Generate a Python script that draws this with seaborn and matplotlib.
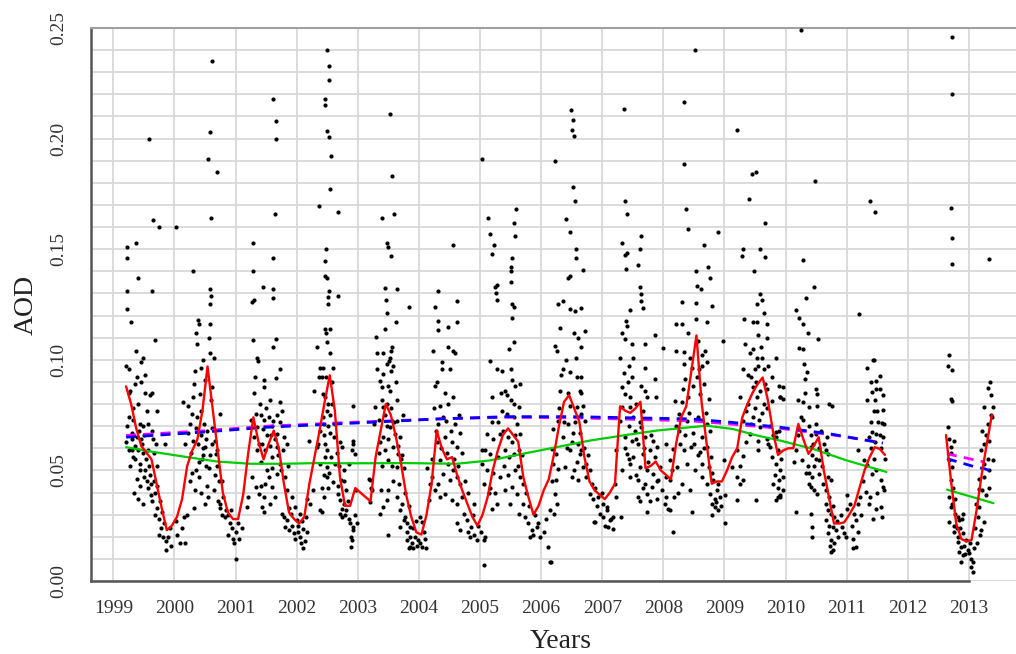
"""AOD time series: daily points, monthly means and trend curves."""

import matplotlib

matplotlib.use("Agg")
import matplotlib.pyplot as plt
import numpy as np
import pandas as pd
import seaborn as sns

# ---- data ------------------------------------------------------------------

# monthly means (red line); index m counts months from Jan 1999
monthly_start_a = 2
monthly_a = [
    0.088, 0.080, 0.069, 0.061, 0.058, 0.055, 0.044, 0.033, 0.023, 0.025,
    0.029, 0.037, 0.052, 0.059, 0.064, 0.077, 0.097, 0.078, 0.059, 0.040,
    0.031, 0.028, 0.028, 0.039, 0.058, 0.074, 0.063, 0.055, 0.062, 0.068,
    0.060, 0.044, 0.031, 0.028, 0.026, 0.029, 0.044, 0.056, 0.068, 0.081,
    0.093, 0.077, 0.047, 0.034, 0.034, 0.042, 0.040, 0.038, 0.036, 0.056,
    0.068, 0.080, 0.075, 0.065, 0.053, 0.039, 0.029, 0.022, 0.021, 0.030,
    0.044, 0.068, 0.060, 0.055, 0.056, 0.048, 0.041, 0.035, 0.029, 0.025,
    0.030, 0.038, 0.050, 0.059, 0.066, 0.069, 0.066, 0.063, 0.047, 0.038,
    0.030, 0.034, 0.041, 0.046, 0.057, 0.070, 0.081, 0.084, 0.078, 0.072,
    0.056, 0.045, 0.041, 0.039, 0.037, 0.040, 0.044, 0.079, 0.077, 0.076,
    0.078, 0.081, 0.051, 0.052, 0.054, 0.050, 0.048, 0.046, 0.062, 0.074,
    0.079, 0.095, 0.111, 0.081, 0.062, 0.044, 0.045, 0.045, 0.050, 0.056,
    0.060, 0.074, 0.080, 0.085, 0.089, 0.092, 0.082, 0.068, 0.057, 0.059,
    0.060, 0.060, 0.071, 0.064, 0.0575, 0.061, 0.065, 0.050, 0.038, 0.026,
    0.026, 0.0265, 0.030, 0.034, 0.042, 0.050, 0.056, 0.0605, 0.0597, 0.057,
]
monthly_start_b = 163
monthly_b = [0.066, 0.045, 0.026, 0.019, 0.018, 0.0185, 0.032, 0.048, 0.062, 0.075]

# smooth trend (green)
green_x = [1999.21, 1999.60, 2000.14, 2000.70, 2001.24, 2001.78, 2002.33, 2002.87,
           2003.80, 2004.62, 2005.16, 2005.70, 2006.25, 2006.80, 2007.34, 2007.89,
           2008.44, 2008.71, 2009.14, 2009.53, 2009.91, 2010.45, 2011.00, 2011.65]
green_y = [0.0605, 0.0586, 0.0563, 0.0540, 0.0530, 0.0530, 0.0533, 0.0532,
           0.0533, 0.0530, 0.0545, 0.0575, 0.0605, 0.0635, 0.0658, 0.0680,
           0.0695, 0.0702, 0.0687, 0.0658, 0.0635, 0.0597, 0.0545, 0.0493]
green_x2 = [2012.64, 2013.40]
green_y2 = [0.0413, 0.0352]

# linear-ish trends (blue and magenta dashed)
blue_x = [1999.21, 2000.42, 2001.51, 2002.87, 2004.35, 2005.44, 2006.53, 2007.62,
          2008.44, 2009.09, 2009.91, 2010.73, 2011.59]
blue_y = [0.0650, 0.0672, 0.0695, 0.0713, 0.0733, 0.0743, 0.0743, 0.0737,
          0.0733, 0.0718, 0.0695, 0.0665, 0.0623]
blue_x2 = [2012.64, 2013.11, 2013.25, 2013.41]
blue_y2 = [0.0553, 0.0515, 0.0508, 0.0492]

magenta_x = [1999.21, 2000.42, 2001.51, 2002.87, 2004.35, 2005.44, 2006.53, 2007.62,
             2008.44, 2009.09, 2009.91, 2010.73, 2011.59]
magenta_y = [0.0658, 0.0678, 0.0700, 0.0717, 0.0733, 0.0740, 0.0738, 0.0730,
             0.0724, 0.0710, 0.0690, 0.0662, 0.0625]
magenta_x2 = [2012.64, 2013.25]
magenta_y2 = [0.0575, 0.0538]

# daily observations (black dots), grouped by season
pts_1999 = [
    (1999.58, 0.200), (1999.65, 0.163), (1999.75, 0.160), (2000.03, 0.160), (1999.22, 0.151),
    (1999.22, 0.146), (1999.37, 0.153), (1999.40, 0.137), (1999.23, 0.131), (1999.63, 0.131),
    (1999.23, 0.123), (1999.29, 0.117), (1999.68, 0.109), (1999.37, 0.104), (1999.49, 0.101),
    (1999.46, 0.099), (1999.21, 0.097), (1999.26, 0.096), (1999.52, 0.093), (1999.38, 0.092),
    (1999.36, 0.089), (1999.28, 0.086), (1999.52, 0.085), (1999.63, 0.085), (1999.60, 0.084),
    (1999.41, 0.080), (1999.71, 0.077), (1999.55, 0.077), (1999.26, 0.074), (1999.33, 0.073),
    (1999.44, 0.071), (1999.49, 0.070), (1999.23, 0.070), (1999.30, 0.067), (1999.63, 0.068),
    (1999.38, 0.065), (1999.46, 0.064), (1999.21, 0.063), (1999.30, 0.059), (1999.41, 0.059),
    (1999.49, 0.058), (1999.57, 0.059), (1999.66, 0.058), (1999.85, 0.062), (1999.71, 0.052),
    (1999.44, 0.053), (1999.52, 0.050), (1999.60, 0.048), (1999.38, 0.046), (1999.66, 0.045),
    (1999.44, 0.043), (1999.57, 0.042), (1999.62, 0.039), (1999.41, 0.037), (1999.48, 0.035),
    (1999.71, 0.033), (1999.68, 0.030), (1999.74, 0.028), (1999.83, 0.026), (1999.86, 0.018),
    (1999.87, 0.014), (1999.74, 0.021), (1999.93, 0.024), (2000.04, 0.021), (2000.09, 0.017),
    (2000.17, 0.017), (1999.27, 0.052), (1999.26, 0.059), (1999.33, 0.056), (1999.30, 0.064),
    (1999.35, 0.061), (1999.47, 0.062), (1999.54, 0.055), (1999.58, 0.052), (1999.50, 0.047),
    (1999.61, 0.044), (1999.69, 0.040), (1999.77, 0.036), (1999.80, 0.031), (1999.90, 0.020),
    (1999.95, 0.016), (1999.32, 0.078), (1999.42, 0.068), (1999.50, 0.066), (1999.56, 0.071),
    (1999.65, 0.064), (1999.70, 0.062), (1999.36, 0.055), (1999.43, 0.050), (1999.55, 0.045),
    (1999.64, 0.036), (1999.72, 0.043), (1999.78, 0.024), (1999.82, 0.020), (1999.25, 0.085),
    (1999.45, 0.090), (1999.34, 0.040), (2000.02, 0.027), (2000.12, 0.024),
]
pts_2000 = [
    (2000.61, 0.235), (2000.58, 0.203), (2000.55, 0.191), (2000.70, 0.185), (2000.60, 0.164),
    (2000.31, 0.140), (2000.59, 0.132), (2000.60, 0.129), (2000.59, 0.125), (2000.39, 0.118),
    (2000.40, 0.116), (2000.59, 0.116), (2000.56, 0.110), (2000.37, 0.107), (2000.58, 0.103),
    (2000.64, 0.101), (2000.44, 0.0965), (2000.32, 0.089), (2000.50, 0.091), (2000.62, 0.0875),
    (2000.14, 0.081), (2000.23, 0.079), (2000.42, 0.0845), (2000.60, 0.082), (2000.28, 0.0755),
    (2000.37, 0.074), (2000.75, 0.0755), (2000.48, 0.071), (2000.54, 0.068), (2000.26, 0.071),
    (2000.23, 0.067), (2000.31, 0.0635), (2000.39, 0.062), (2000.50, 0.0605), (2000.61, 0.062),
    (2000.69, 0.059), (2000.27, 0.058), (2000.40, 0.054), (2000.45, 0.055), (2000.57, 0.051),
    (2000.28, 0.049), (2000.41, 0.047), (2000.53, 0.043), (2000.26, 0.045), (2000.64, 0.041),
    (2000.34, 0.041), (2000.50, 0.035), (2000.75, 0.035), (2000.32, 0.033), (2000.72, 0.036),
    (2000.74, 0.033), (2000.78, 0.030), (2000.85, 0.032), (2000.83, 0.029), (2000.91, 0.026),
    (2000.94, 0.024), (2001.00, 0.022), (2001.01, 0.010), (2000.98, 0.017), (2001.10, 0.024),
    (2000.87, 0.030), (2000.20, 0.030), (2000.15, 0.029), (2000.78, 0.045), (2000.79, 0.038),
    (2000.67, 0.0635), (2000.68, 0.0575), (2000.36, 0.112), (2000.47, 0.057), (2000.52, 0.064),
    (2000.44, 0.077), (2000.66, 0.048), (2000.96, 0.019), (2001.04, 0.026), (2000.30, 0.083),
    (2000.35, 0.069), (2000.43, 0.066), (2000.46, 0.060), (2000.52, 0.052), (2000.58, 0.057),
    (2000.62, 0.069), (2000.70, 0.052), (2000.73, 0.045), (2000.36, 0.050), (2000.44, 0.040),
    (2000.55, 0.038), (2000.88, 0.021), (2000.92, 0.032), (2001.06, 0.019), (2000.33, 0.095),
    (2000.47, 0.100), (2000.18, 0.062),
]
pts_2001 = [
    (2001.62, 0.218), (2001.66, 0.208), (2001.66, 0.200), (2001.65, 0.166), (2001.28, 0.153),
    (2001.61, 0.146), (2001.28, 0.140), (2001.45, 0.133), (2001.62, 0.132), (2001.61, 0.128),
    (2001.27, 0.126), (2001.31, 0.127), (2001.28, 0.109), (2001.67, 0.1096), (2001.61, 0.106),
    (2001.35, 0.101), (2001.36, 0.0996), (2001.73, 0.0958), (2001.32, 0.092), (2001.47, 0.091),
    (2001.47, 0.0875), (2001.67, 0.0916), (2001.57, 0.082), (2001.73, 0.081), (2001.25, 0.073),
    (2001.34, 0.0755), (2001.42, 0.075), (2001.47, 0.073), (2001.55, 0.074), (2001.62, 0.0725),
    (2001.68, 0.075), (2001.73, 0.072), (2001.76, 0.077), (2001.35, 0.0695), (2001.45, 0.0688),
    (2001.60, 0.070), (2001.51, 0.066), (2001.68, 0.0665), (2001.79, 0.065), (2001.38, 0.062),
    (2001.57, 0.061), (2001.68, 0.0605), (2001.84, 0.062), (2001.35, 0.059), (2001.49, 0.059),
    (2001.42, 0.054), (2001.60, 0.056), (2001.73, 0.053), (2001.27, 0.047), (2001.60, 0.051),
    (2001.68, 0.0485), (2001.54, 0.047), (2001.34, 0.0425), (2001.42, 0.043), (2001.46, 0.038),
    (2001.38, 0.0395), (2001.43, 0.0335), (2001.46, 0.031), (2001.60, 0.0425), (2001.65, 0.038),
    (2001.21, 0.038), (2001.19, 0.0335), (2001.74, 0.050), (2001.81, 0.047), (2001.84, 0.041),
    (2001.92, 0.038), (2001.76, 0.0305), (2001.79, 0.029), (2001.84, 0.0275), (2001.90, 0.0305),
    (2001.81, 0.0245), (2001.87, 0.023), (2001.92, 0.025), (2001.95, 0.0215), (2002.00, 0.0275),
    (2002.03, 0.022), (2002.06, 0.020), (2002.11, 0.0237), (2002.17, 0.022), (2002.10, 0.0147),
    (2002.07, 0.017), (2001.98, 0.0335), (2002.05, 0.0305), (2002.16, 0.029), (2002.17, 0.037),
    (2002.22, 0.035), (2002.20, 0.0635), (2002.33, 0.0605), (2001.30, 0.065), (2001.40, 0.080),
    (2001.50, 0.078), (2001.58, 0.066), (2001.64, 0.064), (2001.70, 0.057), (2001.77, 0.059),
    (2001.52, 0.050), (2001.48, 0.044), (2001.56, 0.035), (2001.88, 0.033), (2001.97, 0.019),
    (2002.02, 0.025), (2002.09, 0.027), (2002.13, 0.018), (2001.30, 0.085), (2001.44, 0.062),
    (2001.86, 0.052),
]
pts_2002 = [
    (2002.49, 0.240), (2002.53, 0.233), (2002.53, 0.2265), (2002.47, 0.218), (2002.47, 0.2153),
    (2002.49, 0.2035), (2002.53, 0.2005), (2002.56, 0.1923), (2002.55, 0.177), (2002.37, 0.1695),
    (2002.67, 0.1668), (2002.48, 0.150), (2002.47, 0.1446), (2002.47, 0.138), (2002.50, 0.137),
    (2002.53, 0.131), (2002.51, 0.1285), (2002.67, 0.129), (2002.52, 0.125), (2002.47, 0.114),
    (2002.55, 0.114), (2002.48, 0.112), (2002.49, 0.108), (2002.55, 0.103), (2002.43, 0.0962),
    (2002.60, 0.0962), (2002.41, 0.092), (2002.48, 0.092), (2002.43, 0.0845), (2002.47, 0.083),
    (2002.93, 0.079), (2002.49, 0.077), (2002.55, 0.075), (2002.43, 0.074), (2002.55, 0.067),
    (2002.61, 0.065), (2002.71, 0.063), (2002.74, 0.0605), (2002.93, 0.062), (2002.96, 0.0575),
    (2002.49, 0.059), (2002.57, 0.056), (2002.63, 0.053), (2002.77, 0.050), (2002.44, 0.0477),
    (2002.60, 0.0447), (2002.68, 0.043), (2002.72, 0.0455), (2002.41, 0.042), (2002.52, 0.042),
    (2002.81, 0.041), (2002.97, 0.041), (2002.67, 0.0395), (2002.71, 0.0365), (2002.77, 0.035),
    (2002.74, 0.0327), (2002.80, 0.032), (2002.41, 0.031), (2002.71, 0.0305), (2002.75, 0.029),
    (2002.79, 0.0297), (2002.85, 0.028), (2002.87, 0.026), (2002.92, 0.0245), (2002.89, 0.020),
    (2002.90, 0.0185), (2002.89, 0.0155), (2002.93, 0.023), (2002.44, 0.071), (2002.39, 0.068),
    (2002.47, 0.062), (2002.39, 0.053), (2002.50, 0.047), (2002.44, 0.038), (2002.50, 0.0515),
    (2002.33, 0.106), (2002.39, 0.0965), (2002.36, 0.092), (2002.29, 0.086), (2002.52, 0.080),
    (2002.27, 0.041), (2002.39, 0.032), (2002.92, 0.0635), (2002.90, 0.059), (2002.85, 0.053),
    (2002.45, 0.066), (2002.52, 0.070), (2002.58, 0.080), (2002.62, 0.071), (2002.66, 0.058),
    (2002.70, 0.052), (2002.78, 0.045), (2002.84, 0.036), (2002.95, 0.030), (2002.98, 0.026),
    (2002.46, 0.056), (2002.53, 0.049), (2002.35, 0.062), (2002.58, 0.090),
]
pts_2003 = [
    (2003.53, 0.211), (2003.56, 0.183), (2003.40, 0.164), (2003.60, 0.166), (2003.47, 0.153),
    (2003.49, 0.151), (2003.55, 0.147), (2003.45, 0.1326), (2003.46, 0.127), (2003.47, 0.121),
    (2003.64, 0.132), (2003.83, 0.124), (2003.45, 0.114), (2003.30, 0.1105), (2003.63, 0.117),
    (2003.56, 0.106), (2003.55, 0.104), (2003.53, 0.101), (2003.42, 0.103), (2003.31, 0.103),
    (2003.51, 0.0995), (2003.58, 0.097), (2003.55, 0.095), (2003.31, 0.096), (2003.42, 0.0935),
    (2003.37, 0.0905), (2003.50, 0.088), (2003.39, 0.0875), (2003.53, 0.086), (2003.64, 0.082),
    (2003.39, 0.082), (2003.47, 0.080), (2003.42, 0.0785), (2003.28, 0.0785), (2003.34, 0.073),
    (2003.26, 0.071), (2003.74, 0.075), (2003.64, 0.0725), (2003.53, 0.0695), (2003.61, 0.0665),
    (2003.69, 0.065), (2003.50, 0.064), (2003.42, 0.065), (2003.37, 0.063), (2003.45, 0.059),
    (2003.58, 0.0605), (2003.66, 0.0575), (2003.72, 0.057), (2003.50, 0.0545), (2003.56, 0.052),
    (2003.64, 0.0515), (2003.75, 0.051), (2003.20, 0.0455), (2003.23, 0.041), (2003.38, 0.041),
    (2003.50, 0.041), (2003.64, 0.038), (2003.72, 0.035), (2003.69, 0.032), (2003.77, 0.029),
    (2003.75, 0.0275), (2003.80, 0.026), (2003.69, 0.0245), (2003.86, 0.0245), (2003.80, 0.022),
    (2003.86, 0.020), (2003.94, 0.020), (2003.99, 0.0185), (2003.81, 0.0185), (2003.86, 0.0155),
    (2003.91, 0.0147), (2003.97, 0.016), (2004.02, 0.017), (2004.05, 0.0155), (2004.12, 0.015),
    (2003.83, 0.0147), (2003.88, 0.017), (2003.42, 0.0335), (2003.47, 0.0365), (2003.67, 0.044),
    (2003.20, 0.0357), (2003.37, 0.0305), (2003.50, 0.0207), (2003.19, 0.046), (2003.21, 0.042),
    (2003.44, 0.075), (2003.48, 0.070), (2003.55, 0.078), (2003.60, 0.072), (2003.66, 0.061),
    (2003.70, 0.055), (2003.78, 0.040), (2003.83, 0.034), (2003.90, 0.024), (2003.95, 0.027),
    (2004.08, 0.022), (2004.10, 0.019), (2003.34, 0.058), (2003.40, 0.052), (2003.58, 0.045),
    (2003.62, 0.090), (2003.48, 0.098),
]
pts_2004 = [
    (2004.55, 0.152), (2004.26, 0.124), (2004.31, 0.1176), (2004.31, 0.1135), (2004.32, 0.131),
    (2004.48, 0.115), (2004.63, 0.117), (2004.62, 0.1266), (2004.23, 0.104), (2004.47, 0.106),
    (2004.56, 0.104), (2004.59, 0.103), (2004.37, 0.099), (2004.38, 0.096), (2004.51, 0.096),
    (2004.26, 0.088), (2004.55, 0.083), (2004.48, 0.080), (2004.24, 0.078), (2004.35, 0.079),
    (2004.32, 0.071), (2004.44, 0.0725), (2004.59, 0.071), (2004.67, 0.067), (2004.29, 0.063),
    (2004.43, 0.065), (2004.54, 0.063), (2004.63, 0.0605), (2004.21, 0.055), (2004.35, 0.0545),
    (2004.48, 0.053), (2004.56, 0.050), (2004.40, 0.0485), (2004.51, 0.0455), (2004.62, 0.047),
    (2004.67, 0.044), (2004.21, 0.047), (2004.32, 0.044), (2004.43, 0.0395), (2004.54, 0.0365),
    (2004.62, 0.035), (2004.70, 0.038), (2004.73, 0.0305), (2004.78, 0.0275), (2004.86, 0.0245),
    (2004.81, 0.022), (2004.62, 0.026), (2004.67, 0.023), (2004.84, 0.020), (2004.90, 0.0207),
    (2004.95, 0.0185), (2005.06, 0.0185), (2005.08, 0.020), (2005.06, 0.0072), (2004.14, 0.051),
    (2004.18, 0.044), (2004.16, 0.0365), (2004.90, 0.035), (2004.02, 0.029), (2004.05, 0.0267),
    (2004.26, 0.041), (2004.34, 0.038), (2004.28, 0.068), (2004.36, 0.060), (2004.40, 0.074),
    (2004.46, 0.058), (2004.52, 0.068), (2004.58, 0.055), (2004.64, 0.052), (2004.70, 0.058),
    (2004.75, 0.045), (2004.80, 0.040), (2004.88, 0.030), (2004.96, 0.025), (2005.01, 0.022),
    (2004.30, 0.090), (2004.42, 0.085), (2004.65, 0.075),
]
pts_2005 = [
    (2005.04, 0.191), (2005.13, 0.164), (2005.16, 0.157), (2005.59, 0.168), (2005.55, 0.162),
    (2005.57, 0.156), (2005.23, 0.152), (2005.19, 0.148), (2005.25, 0.133), (2005.27, 0.134),
    (2005.26, 0.130), (2005.27, 0.127), (2005.52, 0.146), (2005.50, 0.142), (2005.50, 0.140),
    (2005.50, 0.135), (2005.53, 0.125), (2005.55, 0.124), (2005.52, 0.119), (2005.55, 0.108),
    (2005.48, 0.105), (2005.16, 0.0995), (2005.27, 0.096), (2005.36, 0.095), (2005.50, 0.096),
    (2005.52, 0.091), (2005.41, 0.086), (2005.44, 0.084), (2005.50, 0.082), (2005.55, 0.080),
    (2005.65, 0.089), (2005.19, 0.083), (2005.36, 0.077), (2005.44, 0.0755), (2005.55, 0.074),
    (2005.63, 0.0785), (2005.11, 0.0665), (2005.22, 0.064), (2005.33, 0.0665), (2005.46, 0.065),
    (2005.57, 0.066), (2005.66, 0.0665), (2005.08, 0.059), (2005.16, 0.0575), (2005.30, 0.056),
    (2005.41, 0.059), (2005.55, 0.0575), (2005.64, 0.059), (2005.11, 0.050), (2005.22, 0.049),
    (2005.33, 0.047), (2005.46, 0.0477), (2005.57, 0.050), (2005.66, 0.047), (2005.71, 0.044),
    (2005.06, 0.044), (2005.16, 0.042), (2005.25, 0.040), (2005.41, 0.041), (2005.52, 0.0425),
    (2005.60, 0.0395), (2005.19, 0.0327), (2005.27, 0.035), (2005.49, 0.035), (2005.63, 0.0305),
    (2005.71, 0.035), (2005.74, 0.029), (2005.79, 0.026), (2005.85, 0.023), (2005.87, 0.0207),
    (2005.82, 0.020), (2005.93, 0.0245), (2005.98, 0.020), (2006.12, 0.0155), (2006.15, 0.0087),
    (2005.03, 0.059), (2005.04, 0.053), (2005.30, 0.072), (2005.38, 0.068), (2005.40, 0.052),
    (2005.47, 0.056), (2005.52, 0.063), (2005.60, 0.071), (2005.62, 0.052), (2005.68, 0.057),
    (2005.76, 0.040), (2005.80, 0.034), (2005.90, 0.030), (2005.95, 0.026), (2006.04, 0.022),
    (2006.08, 0.028), (2005.20, 0.072), (2005.14, 0.040), (2005.35, 0.085), (2005.58, 0.088),
]
pts_2006 = [
    (2006.49, 0.213), (2006.52, 0.2086), (2006.51, 0.204), (2006.54, 0.201), (2006.23, 0.190),
    (2006.52, 0.178), (2006.55, 0.1716), (2006.40, 0.1635), (2006.48, 0.158), (2006.57, 0.150),
    (2006.57, 0.1458), (2006.48, 0.138), (2006.44, 0.137), (2006.69, 0.1405), (2006.35, 0.1266),
    (2006.28, 0.125), (2006.47, 0.123), (2006.55, 0.122), (2006.65, 0.1233), (2006.31, 0.1146),
    (2006.53, 0.112), (2006.71, 0.113), (2006.23, 0.1063), (2006.26, 0.104), (2006.65, 0.106),
    (2006.57, 0.101), (2006.36, 0.0958), (2006.33, 0.093), (2006.47, 0.0943), (2006.58, 0.092),
    (2006.66, 0.092), (2006.31, 0.086), (2006.44, 0.085), (2006.63, 0.086), (2006.66, 0.085),
    (2006.47, 0.079), (2006.58, 0.0785), (2006.66, 0.0755), (2006.69, 0.079), (2006.28, 0.0725),
    (2006.44, 0.071), (2006.55, 0.072), (2006.72, 0.0725), (2006.20, 0.0688), (2006.36, 0.065),
    (2006.50, 0.063), (2006.61, 0.062), (2006.17, 0.0598), (2006.25, 0.0575), (2006.47, 0.059),
    (2006.63, 0.0575), (2006.66, 0.059), (2006.20, 0.053), (2006.28, 0.0507), (2006.39, 0.0515),
    (2006.53, 0.050), (2006.69, 0.0515), (2006.74, 0.053), (2006.25, 0.0455), (2006.50, 0.047),
    (2006.61, 0.0455), (2006.74, 0.047), (2006.83, 0.044), (2006.22, 0.0395), (2006.80, 0.0395),
    (2006.85, 0.0372), (2006.93, 0.038), (2007.02, 0.035), (2006.14, 0.032), (2006.21, 0.0305),
    (2006.96, 0.0305), (2007.02, 0.029), (2007.07, 0.032), (2007.13, 0.0275), (2007.18, 0.029),
    (2006.88, 0.0267), (2007.04, 0.025), (2007.10, 0.0245), (2007.18, 0.0237), (2007.30, 0.029),
    (2007.23, 0.038), (2007.21, 0.044), (2006.16, 0.0087), (2006.30, 0.078), (2006.38, 0.072),
    (2006.42, 0.060), (2006.52, 0.067), (2006.58, 0.054), (2006.64, 0.067), (2006.70, 0.060),
    (2006.76, 0.057), (2006.80, 0.050), (2006.88, 0.042), (2006.92, 0.034), (2007.00, 0.040),
    (2006.18, 0.045), (2006.26, 0.035), (2006.40, 0.100), (2006.60, 0.110),
]
pts_2007 = [
    (2007.36, 0.2135), (2007.37, 0.172), (2007.40, 0.166), (2007.33, 0.153), (2007.61, 0.150),
    (2007.63, 0.156), (2007.37, 0.1476), (2007.40, 0.1483), (2007.39, 0.141), (2007.59, 0.143),
    (2007.62, 0.133), (2007.63, 0.1296), (2007.64, 0.1266), (2007.67, 0.1233), (2007.45, 0.1224),
    (2007.39, 0.1176), (2007.40, 0.1153), (2007.32, 0.1123), (2007.37, 0.1093), (2007.70, 0.107),
    (2007.48, 0.107), (2007.86, 0.111), (2007.29, 0.1008), (2007.50, 0.101), (2007.43, 0.097),
    (2007.70, 0.0965), (2007.48, 0.092), (2007.86, 0.0913), (2007.32, 0.0875), (2007.37, 0.0845),
    (2007.45, 0.083), (2007.64, 0.088), (2007.70, 0.086), (2007.73, 0.083), (2007.88, 0.083),
    (2007.32, 0.0785), (2007.45, 0.0785), (2007.56, 0.080), (2007.67, 0.077), (2007.29, 0.0725),
    (2007.43, 0.070), (2007.53, 0.068), (2007.64, 0.0695), (2007.37, 0.065), (2007.48, 0.0635),
    (2007.59, 0.062), (2007.70, 0.065), (2007.83, 0.0635), (2007.23, 0.059), (2007.40, 0.0575),
    (2007.51, 0.056), (2007.67, 0.0575), (2007.78, 0.059), (2007.89, 0.0605), (2007.32, 0.050),
    (2007.45, 0.053), (2007.62, 0.0515), (2007.73, 0.050), (2007.83, 0.0485), (2007.94, 0.0515),
    (2007.45, 0.047), (2007.59, 0.0455), (2007.70, 0.044), (2007.81, 0.0425), (2007.92, 0.0455),
    (2008.05, 0.047), (2007.59, 0.038), (2007.73, 0.0395), (2007.89, 0.0372), (2007.73, 0.031),
    (2007.62, 0.036), (2008.11, 0.032), (2008.17, 0.038), (2008.05, 0.038), (2008.16, 0.0222),
    (2008.08, 0.0327), (2006.86, 0.0267), (2007.08, 0.0335), (2007.15, 0.028), (2008.00, 0.1055),
    (2007.35, 0.094), (2007.42, 0.090), (2007.50, 0.074), (2007.55, 0.064), (2007.62, 0.072),
    (2007.68, 0.060), (2007.75, 0.054), (2007.80, 0.066), (2007.86, 0.056), (2007.90, 0.045),
    (2007.98, 0.041), (2008.02, 0.035), (2007.38, 0.060), (2007.44, 0.055), (2007.56, 0.048),
    (2007.66, 0.042), (2007.78, 0.036),
]
pts_2008 = [
    (2008.34, 0.2166), (2008.52, 0.240), (2008.34, 0.1887), (2008.40, 0.159), (2008.90, 0.158),
    (2008.37, 0.168), (2008.67, 0.152), (2008.53, 0.140), (2008.55, 0.1333), (2008.62, 0.1318),
    (2008.73, 0.142), (2008.77, 0.137), (2008.31, 0.1263), (2008.53, 0.1258), (2008.79, 0.1243),
    (2008.54, 0.1183), (2008.71, 0.1173), (2008.21, 0.116), (2008.30, 0.116), (2008.40, 0.1123),
    (2008.68, 0.104), (2008.57, 0.1086), (2008.21, 0.1038), (2008.33, 0.1033), (2008.44, 0.101),
    (2008.63, 0.102), (2008.98, 0.1086), (2008.33, 0.098), (2008.47, 0.0965), (2008.63, 0.0973),
    (2008.71, 0.0988), (2008.36, 0.0913), (2008.55, 0.092), (2008.66, 0.089), (2008.19, 0.0815),
    (2008.30, 0.081), (2008.41, 0.083), (2008.60, 0.0845), (2008.74, 0.0823), (2008.25, 0.0755),
    (2008.38, 0.0725), (2008.57, 0.074), (2008.71, 0.071), (2008.25, 0.068), (2008.36, 0.0658),
    (2008.49, 0.067), (2008.63, 0.065), (2008.76, 0.068), (2008.05, 0.062), (2008.16, 0.0598),
    (2008.33, 0.059), (2008.46, 0.0605), (2008.60, 0.0583), (2008.71, 0.0605), (2008.11, 0.0545),
    (2008.22, 0.0515), (2008.38, 0.053), (2008.52, 0.050), (2008.63, 0.053), (2008.74, 0.0515),
    (2008.63, 0.047), (2008.71, 0.044), (2008.82, 0.0455), (2008.90, 0.044), (2008.76, 0.0395),
    (2008.84, 0.0372), (2008.92, 0.038), (2009.01, 0.0387), (2008.79, 0.035), (2008.84, 0.0335),
    (2008.90, 0.032), (2008.86, 0.0357), (2008.79, 0.0297), (2009.01, 0.026), (2008.47, 0.0312),
    (2008.43, 0.041), (2008.30, 0.044), (2008.11, 0.0455), (2009.20, 0.0365), (2009.25, 0.044),
    (2008.20, 0.070), (2008.28, 0.062), (2008.32, 0.087), (2008.42, 0.076), (2008.50, 0.062),
    (2008.56, 0.057), (2008.66, 0.060), (2008.70, 0.076), (2008.78, 0.056), (2008.80, 0.049),
    (2008.87, 0.041), (2008.95, 0.034), (2008.14, 0.050), (2008.24, 0.040), (2008.48, 0.088),
    (2008.58, 0.096),
]
pts_2009 = [
    (2009.20, 0.204), (2009.45, 0.184), (2009.40, 0.1725), (2009.52, 0.185), (2009.67, 0.1617),
    (2009.30, 0.150), (2009.58, 0.150), (2009.28, 0.147), (2009.66, 0.1465), (2009.48, 0.140),
    (2009.58, 0.1296), (2009.61, 0.127), (2009.53, 0.125), (2009.64, 0.1213), (2009.32, 0.1183),
    (2009.46, 0.117), (2009.53, 0.117), (2009.69, 0.116), (2009.55, 0.111), (2009.69, 0.110),
    (2009.42, 0.103), (2009.53, 0.101), (2009.61, 0.101), (2009.85, 0.101), (2009.33, 0.107),
    (2009.47, 0.105), (2009.55, 0.097), (2009.64, 0.096), (2009.72, 0.097), (2009.31, 0.096),
    (2009.39, 0.093), (2009.46, 0.0875), (2009.58, 0.086), (2009.69, 0.087), (2009.77, 0.092),
    (2009.53, 0.083), (2009.64, 0.080), (2009.77, 0.0815), (2009.91, 0.083), (2009.25, 0.083),
    (2009.36, 0.077), (2009.47, 0.074), (2009.31, 0.0725), (2009.44, 0.071), (2009.58, 0.0695),
    (2009.74, 0.070), (2009.42, 0.0665), (2009.55, 0.0635), (2009.69, 0.0643), (2009.85, 0.065),
    (2009.20, 0.059), (2009.31, 0.0565), (2009.55, 0.059), (2009.74, 0.0605), (2009.88, 0.059),
    (2009.77, 0.056), (2009.85, 0.053), (2009.91, 0.050), (2009.96, 0.047), (2009.80, 0.044),
    (2009.88, 0.042), (2009.91, 0.038), (2009.85, 0.0365), (2009.51, 0.0365), (2009.12, 0.0515),
    (2009.20, 0.047), (2009.31, 0.0455), (2009.00, 0.0545), (2009.38, 0.080), (2009.44, 0.092),
    (2009.50, 0.078), (2009.52, 0.090), (2009.56, 0.073), (2009.62, 0.076), (2009.66, 0.089),
    (2009.70, 0.078), (2009.72, 0.062), (2009.80, 0.066), (2009.83, 0.048), (2009.93, 0.055),
    (2009.60, 0.106), (2009.50, 0.096), (2009.35, 0.063), (2009.26, 0.052),
]
pts_2010 = [
    (2010.25, 0.249), (2010.48, 0.181), (2010.29, 0.145), (2010.47, 0.133), (2010.34, 0.128),
    (2010.17, 0.1224), (2010.22, 0.119), (2010.29, 0.116), (2010.36, 0.112), (2010.22, 0.1055),
    (2010.29, 0.1048), (2010.53, 0.1096), (2010.35, 0.0947), (2010.31, 0.0913), (2009.90, 0.0883),
    (2009.96, 0.0878), (2009.91, 0.083), (2009.95, 0.0825), (2010.21, 0.082), (2010.28, 0.081),
    (2010.50, 0.0868), (2010.52, 0.0845), (2010.39, 0.0785), (2010.51, 0.079), (2010.71, 0.080),
    (2010.76, 0.079), (2010.25, 0.074), (2010.29, 0.073), (2010.49, 0.071), (2009.84, 0.0673),
    (2009.90, 0.068), (2010.41, 0.0658), (2010.49, 0.0665), (2010.58, 0.068), (2010.63, 0.062),
    (2010.66, 0.059), (2010.70, 0.0575), (2010.41, 0.0605), (2010.17, 0.059), (2010.14, 0.054),
    (2010.27, 0.0545), (2010.44, 0.057), (2010.50, 0.055), (2010.55, 0.0545), (2010.47, 0.052),
    (2010.33, 0.049), (2010.39, 0.0488), (2010.44, 0.047), (2010.55, 0.0485), (2010.39, 0.044),
    (2010.41, 0.0425), (2010.47, 0.041), (2010.52, 0.0395), (2010.69, 0.047), (2010.74, 0.0455),
    (2010.66, 0.041), (2010.71, 0.038), (2010.66, 0.035), (2010.69, 0.032), (2010.74, 0.0305),
    (2010.80, 0.029), (2010.66, 0.0275), (2010.71, 0.025), (2010.77, 0.0245), (2010.82, 0.023),
    (2010.69, 0.0215), (2010.74, 0.0185), (2010.80, 0.017), (2010.77, 0.014), (2010.74, 0.0132),
    (2010.41, 0.0305), (2010.43, 0.0245), (2010.44, 0.020), (2010.17, 0.031), (2009.90, 0.0455),
    (2009.87, 0.038), (2009.91, 0.0387), (2009.95, 0.041), (2010.93, 0.0245), (2010.96, 0.0215),
    (2010.99, 0.020), (2010.91, 0.0297), (2010.32, 0.085), (2010.38, 0.070), (2010.45, 0.062),
    (2010.54, 0.060), (2010.60, 0.052), (2010.62, 0.044), (2010.68, 0.065), (2010.78, 0.034),
    (2010.84, 0.027), (2010.86, 0.020), (2010.72, 0.016), (2010.36, 0.052), (2010.20, 0.066),
    (2010.30, 0.098),
]
pts_2011 = [
    (2011.38, 0.172), (2011.47, 0.167), (2011.20, 0.1206), (2011.44, 0.0998), (2011.43, 0.100),
    (2011.34, 0.0962), (2011.40, 0.0898), (2011.48, 0.0905), (2011.54, 0.0928), (2011.34, 0.0818),
    (2011.42, 0.0853), (2011.48, 0.0868), (2011.59, 0.0842), (2011.45, 0.0767), (2011.50, 0.077),
    (2011.60, 0.0773), (2011.58, 0.0713), (2011.61, 0.071), (2011.42, 0.0673), (2011.48, 0.0665),
    (2011.54, 0.0658), (2011.59, 0.065), (2011.37, 0.065), (2011.47, 0.0628), (2011.19, 0.0593),
    (2011.29, 0.0545), (2011.34, 0.0523), (2011.42, 0.0485), (2011.48, 0.050), (2011.56, 0.0455),
    (2011.59, 0.0425), (2011.61, 0.041), (2011.31, 0.0402), (2011.38, 0.038), (2011.37, 0.035),
    (2011.48, 0.0327), (2011.56, 0.0335), (2011.43, 0.028), (2011.58, 0.029), (2011.21, 0.038),
    (2011.18, 0.035), (2011.12, 0.0305), (2011.15, 0.0275), (2011.10, 0.0192), (2011.15, 0.0155),
    (2011.10, 0.0147), (2011.01, 0.0327), (2011.01, 0.0387), (2011.05, 0.035), (2011.39, 0.072),
    (2011.46, 0.082), (2011.52, 0.072), (2011.56, 0.060), (2011.62, 0.055), (2011.50, 0.040),
    (2011.45, 0.055), (2011.26, 0.045), (2011.24, 0.030), (2011.08, 0.025), (2011.18, 0.022),
    (2011.55, 0.087), (2011.40, 0.060),
]
pts_2013 = [
    (2012.72, 0.246), (2012.73, 0.220), (2012.71, 0.1685), (2012.73, 0.155), (2012.72, 0.1434),
    (2013.33, 0.1455), (2012.67, 0.102), (2012.65, 0.0973), (2012.72, 0.0955), (2012.71, 0.0823),
    (2012.72, 0.0812), (2012.66, 0.0695), (2012.68, 0.0643), (2012.76, 0.0635), (2012.71, 0.0605),
    (2012.68, 0.0545), (2012.73, 0.0515), (2012.71, 0.0455), (2012.68, 0.038), (2012.73, 0.035),
    (2012.71, 0.0335), (2012.68, 0.0267), (2012.76, 0.025), (2012.84, 0.0275), (2012.90, 0.0305),
    (2012.76, 0.022), (2012.82, 0.020), (2012.90, 0.0215), (2012.95, 0.0185), (2012.82, 0.0177),
    (2012.87, 0.0155), (2012.83, 0.0132), (2012.90, 0.0117), (2012.87, 0.0087), (2012.98, 0.014),
    (2013.00, 0.0125), (2013.03, 0.010), (2013.06, 0.0087), (2013.04, 0.0065), (2013.06, 0.0042),
    (2013.09, 0.0147), (2013.14, 0.017), (2013.18, 0.0207), (2013.12, 0.035), (2013.17, 0.0335),
    (2013.15, 0.029), (2013.20, 0.023), (2013.25, 0.0267), (2013.17, 0.0417), (2013.22, 0.041),
    (2013.28, 0.0387), (2013.20, 0.0593), (2013.25, 0.053), (2013.31, 0.0553), (2013.33, 0.050),
    (2013.22, 0.068), (2013.31, 0.071), (2013.33, 0.0635), (2013.25, 0.0785), (2013.40, 0.0785),
    (2013.38, 0.0743), (2013.34, 0.090), (2013.32, 0.0873), (2013.36, 0.0842), (2013.39, 0.0545),
    (2013.25, 0.047), (2013.33, 0.0422), (2012.78, 0.0305), (2012.82, 0.029), (2012.70, 0.058),
    (2012.74, 0.042), (2012.78, 0.037), (2012.80, 0.024), (2012.86, 0.024), (2012.92, 0.016),
    (2012.94, 0.012), (2013.01, 0.017), (2013.10, 0.024), (2013.16, 0.046), (2013.24, 0.062),
    (2013.28, 0.066), (2013.36, 0.075), (2012.88, 0.028),
]

years = list(range(1999, 2014))
ytick_values = [0.00, 0.05, 0.10, 0.15, 0.20, 0.25]
ytick_labels = ["0.00", "0.05", "0.10", "0.15", "0.20", "0.25"]


def month_frame(start, values, segment):
    m = np.arange(start, start + len(values))
    return pd.DataFrame({"year": 1999 + (m + 0.5) / 12.0, "aod": values, "seg": segment})


def curve_frame(parts):
    frames = [pd.DataFrame({"year": x, "aod": y, "seg": i}) for i, (x, y) in enumerate(parts)]
    return pd.concat(frames, ignore_index=True)


points = pd.DataFrame(
    pts_1999 + pts_2000 + pts_2001 + pts_2002 + pts_2003 + pts_2004 + pts_2005
    + pts_2006 + pts_2007 + pts_2008 + pts_2009 + pts_2010 + pts_2011 + pts_2013,
    columns=["year", "aod"],
)
monthly = pd.concat([month_frame(monthly_start_a, monthly_a, 0),
                     month_frame(monthly_start_b, monthly_b, 1)], ignore_index=True)
green = curve_frame([(green_x, green_y), (green_x2, green_y2)])
blue = curve_frame([(blue_x, blue_y), (blue_x2, blue_y2)])
magenta = curve_frame([(magenta_x, magenta_y), (magenta_x2, magenta_y2)])

# ---- figure ----------------------------------------------------------------
sns.set_theme(style="whitegrid")
plt.rcParams["font.family"] = ["Liberation Serif", "DejaVu Serif"]

fig = plt.figure(figsize=(10.16, 6.54), dpi=100)
ax = fig.add_axes([0.08957, 0.11162, 0.91043, 0.84557])
ax.set_facecolor("white")

xlim = (1998.635, 2013.77)
ax.set_xlim(*xlim)
ax.set_ylim(0, 0.25)

sns.scatterplot(data=points, x="year", y="aod", color="black", s=9,
                linewidth=0, ax=ax, zorder=3)

n0 = len(ax.lines)
sns.lineplot(data=magenta, x="year", y="aod", units="seg", estimator=None, sort=False,
             color="#ff00ff", lw=2.0, ax=ax, zorder=4)
sns.lineplot(data=blue, x="year", y="aod", units="seg", estimator=None, sort=False,
             color="#0000ff", lw=2.0, ax=ax, zorder=5)
for line in ax.lines[n0:]:
    line.set_dashes([3.6, 2.6])
sns.lineplot(data=green, x="year", y="aod", units="seg", estimator=None, sort=False,
             color="#00cd00", lw=1.6, ax=ax, zorder=6)
sns.lineplot(data=monthly, x="year", y="aod", units="seg", estimator=None, sort=False,
             color="#ff0000", lw=1.7, ax=ax, zorder=7)

# grid and ticks
ax.set_xticks(years)
ax.set_xticklabels([str(y) for y in years])
ax.set_yticks(ytick_values)
ax.set_yticklabels(ytick_labels)
ax.set_yticks(np.arange(0, 0.2501, 0.01), minor=True)
ax.grid(True, which="both", axis="y", color="#d6d6d6", lw=1.2)
ax.grid(True, which="major", axis="x", color="#d6d6d6", lw=1.2)
ax.set_axisbelow(True)

ax.tick_params(axis="both", which="major", direction="in", length=7, width=1.2,
               color="#808080", labelsize=14, labelcolor="#333333")
ax.tick_params(axis="x", which="major", pad=14)
ax.tick_params(axis="y", which="major", pad=17)
ax.tick_params(axis="y", which="minor", length=0)
plt.setp(ax.get_yticklabels(), rotation=90, va="center")

for side in ["top", "bottom", "left", "right"]:
    ax.spines[side].set_visible(True)
ax.spines["right"].set_visible(False)
ax.spines["top"].set_color("#a0a0a0")
ax.spines["top"].set_linewidth(1.5)
ax.spines["left"].set_color("#555555")
ax.spines["left"].set_linewidth(1.8)
ax.spines["bottom"].set_color("#555555")
ax.spines["bottom"].set_linewidth(1.8)
ax.spines["bottom"].set_bounds(xlim[0], 2013)

ax.set_xlabel("Years", fontsize=20, color="#222222")
ax.set_ylabel("AOD", fontsize=20, color="#222222")
ax.xaxis.set_label_coords(0.508, -0.087)
ax.yaxis.set_label_coords(-0.056, 0.5)

fig.savefig("out.png", dpi=100)
